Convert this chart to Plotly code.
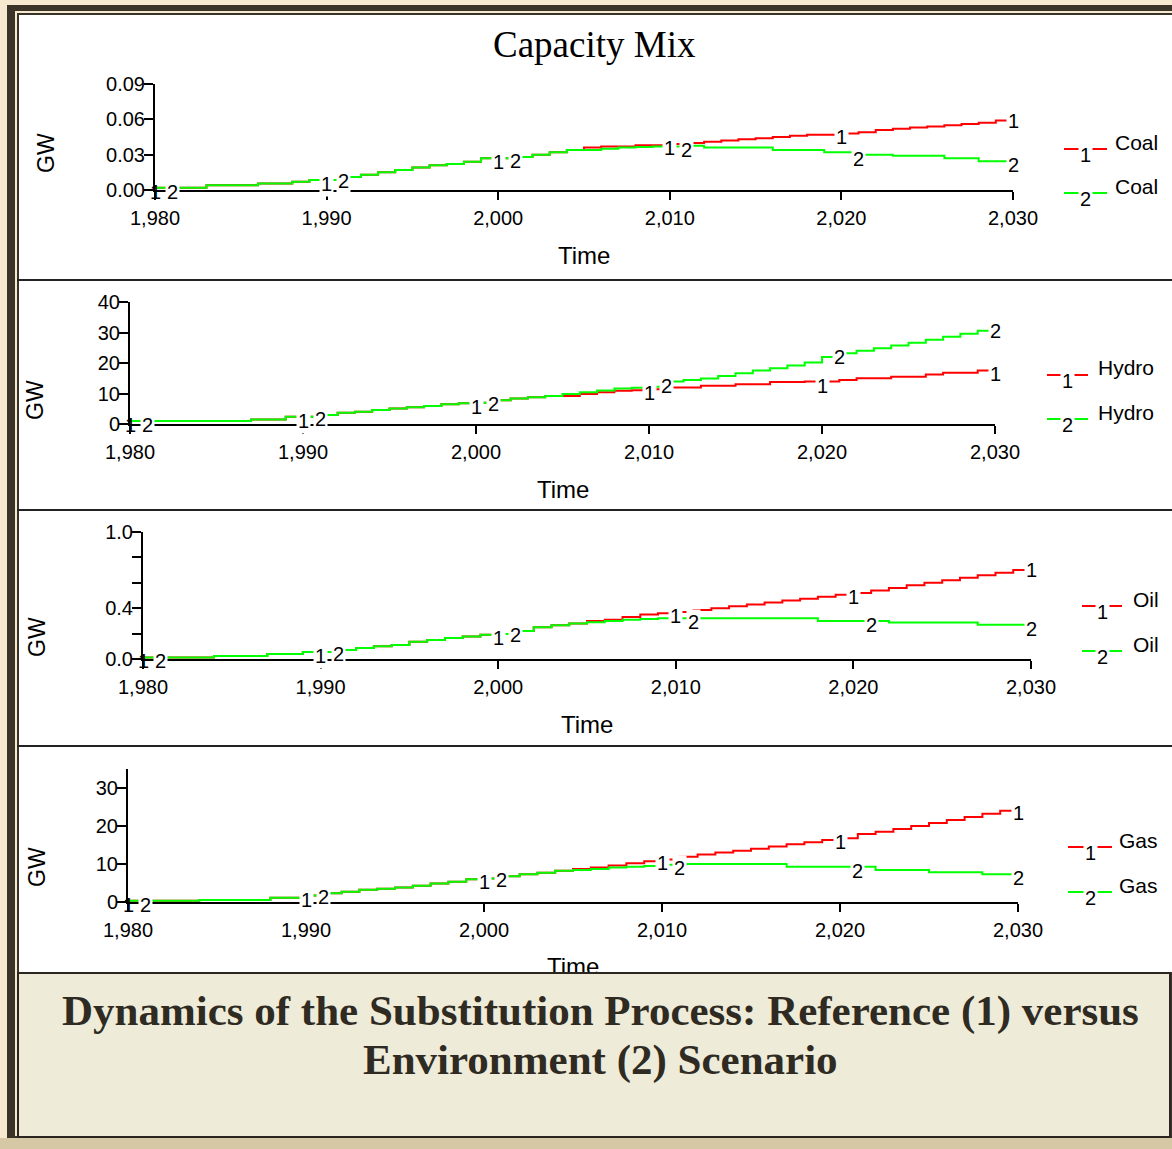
import plotly.graph_objects as go

W, H = 1172, 1149

# ---------------- data ----------------
years = list(range(1980, 2031))
decade_ticks = [1980, 1990, 2000, 2010, 2020, 2030]
label_years_ref = [1980, 1990, 2000, 2010, 2020, 2030]
label_years_env = [1981, 1991, 2001, 2011, 2021, 2030]

coal_ref = [0.002, 0.002, 0.002, 0.004, 0.004, 0.004, 0.0055, 0.0055, 0.007, 0.0085,
            0.0085, 0.011, 0.013, 0.015, 0.017, 0.019, 0.021, 0.022, 0.024, 0.027,
            0.027, 0.028, 0.030, 0.032, 0.034, 0.036, 0.037, 0.037, 0.038, 0.038,
            0.039, 0.040, 0.041, 0.042, 0.043, 0.044, 0.045, 0.046, 0.047, 0.047,
            0.048, 0.049, 0.051, 0.052, 0.053, 0.054, 0.055, 0.056, 0.057, 0.059,
            0.062]
coal_env = [0.002, 0.002, 0.002, 0.004, 0.004, 0.004, 0.0055, 0.0055, 0.007, 0.0085,
            0.0085, 0.011, 0.013, 0.015, 0.017, 0.019, 0.021, 0.022, 0.024, 0.027,
            0.027, 0.028, 0.030, 0.032, 0.034, 0.034, 0.035, 0.036, 0.0365, 0.037,
            0.037, 0.0375, 0.036, 0.036, 0.036, 0.036, 0.034, 0.034, 0.034, 0.032,
            0.032, 0.030, 0.030, 0.029, 0.029, 0.029, 0.027, 0.027, 0.0245, 0.0245,
            0.0245]

hydro_ref = [1.0, 1.0, 1.0, 1.0, 1.0, 1.0, 1.0, 1.5, 1.5, 2.4,
             2.4, 2.95, 3.7, 4.0, 4.6, 5.1, 5.5, 5.9, 6.5, 6.8,
             7.0, 7.8, 8.4, 8.8, 9.2, 9.2, 9.8, 10.4, 10.9, 11.1,
             11.4, 12.0, 12.0, 12.5, 12.5, 13.0, 13.0, 13.8, 13.8, 13.9,
             13.9, 14.4, 15.0, 15.0, 15.5, 15.5, 16.2, 16.8, 16.8, 17.5,
             17.6]
hydro_env = [1.0, 1.0, 1.0, 1.0, 1.0, 1.0, 1.0, 1.5, 1.5, 2.4,
             2.4, 2.95, 3.7, 4.0, 4.6, 5.1, 5.5, 5.9, 6.5, 6.8,
             7.0, 7.8, 8.4, 8.8, 9.2, 9.8, 10.4, 11.0, 11.6, 11.9,
             12.2, 13.9, 14.4, 14.9, 15.7, 16.6, 17.5, 18.3, 19.2, 20.2,
             22.0, 23.2, 24.0, 24.8, 25.7, 26.6, 27.6, 28.6, 29.6, 30.6,
             31.8]

oil_ref = [0.012, 0.012, 0.012, 0.012, 0.024, 0.024, 0.024, 0.040, 0.040, 0.055,
           0.055, 0.070, 0.087, 0.100, 0.110, 0.136, 0.150, 0.165, 0.178, 0.190,
           0.197, 0.220, 0.250, 0.265, 0.280, 0.300, 0.310, 0.330, 0.350, 0.360,
           0.370, 0.385, 0.400, 0.415, 0.430, 0.445, 0.460, 0.475, 0.490, 0.505,
           0.520, 0.540, 0.560, 0.580, 0.600, 0.620, 0.640, 0.660, 0.680, 0.700,
           0.730]
oil_env = [0.012, 0.012, 0.012, 0.012, 0.024, 0.024, 0.024, 0.040, 0.040, 0.055,
           0.055, 0.070, 0.087, 0.100, 0.110, 0.136, 0.150, 0.165, 0.178, 0.190,
           0.197, 0.220, 0.250, 0.265, 0.280, 0.290, 0.300, 0.310, 0.315, 0.320,
           0.320, 0.320, 0.320, 0.320, 0.320, 0.320, 0.320, 0.320, 0.300, 0.300,
           0.300, 0.300, 0.287, 0.287, 0.287, 0.287, 0.287, 0.270, 0.270, 0.270,
           0.270]

gas_ref = [0.3, 0.3, 0.3, 0.3, 0.5, 0.5, 0.5, 0.5, 1.1, 1.1,
           1.7, 2.3, 2.7, 3.2, 3.5, 3.8, 4.3, 4.9, 5.3, 6.0,
           6.2, 6.8, 7.3, 7.7, 8.2, 8.7, 9.1, 9.6, 10.2, 10.7,
           11.2, 11.9, 12.5, 13.0, 13.5, 14.0, 14.6, 15.2, 15.7, 16.3,
           16.8, 17.9, 18.5, 19.2, 20.0, 20.8, 21.6, 22.4, 23.2, 24.0,
           24.5]
gas_env = [0.3, 0.3, 0.3, 0.3, 0.5, 0.5, 0.5, 0.5, 1.1, 1.1,
           1.7, 2.3, 2.7, 3.2, 3.5, 3.8, 4.3, 4.9, 5.3, 6.0,
           6.2, 6.8, 7.3, 7.7, 8.2, 8.4, 8.7, 9.1, 9.3, 9.5,
           9.8, 10.0, 10.0, 10.0, 10.0, 10.0, 10.0, 9.3, 9.3, 9.3,
           9.3, 9.3, 8.4, 8.4, 8.4, 7.8, 7.8, 7.8, 7.3, 7.3,
           7.3]

coal_ticks = [0, 0.03, 0.06, 0.09]
coal_ticktext = ["0.00", "0.03", "0.06", "0.09"]
hydro_ticks = [0, 10, 20, 30, 40]
hydro_ticktext = ["0", "10", "20", "30", "40"]
oil_ticks = [0, 0.2, 0.4, 0.6, 0.8, 1.0]
oil_ticktext = ["0.0", "", "0.4", "", "", "1.0"]
gas_ticks = [0, 10, 20, 30]
gas_ticktext = ["0", "10", "20", "30"]

title_text = "Capacity Mix"
caption_lines = ["Dynamics of the Substitution Process: Reference (1) versus",
                 "Environment (2) Scenario"]

# ---------------- style ----------------
RED = "#ff0000"
GREEN = "#00ff00"
CREAM = "#f6e9cf"
DARK = "#3a3428"
CAPBG = "#eeebd9"
TAN = "#d6c8a4"
SANS = "Arial, Liberation Sans, sans-serif"
SERIF = "Times New Roman, Liberation Serif, serif"


def px(x):
    return x / W


def py(y):
    return 1 - y / H


def paper_text(x, y, text, size, family=SANS, xanchor="center", **kw):
    d = dict(x=px(x), y=py(y), xref="paper", yref="paper", text=text, showarrow=False,
             xanchor=xanchor, yanchor="middle",
             font=dict(family=family, size=size, color=kw.pop("color", "black"),
                       weight=kw.pop("weight", "normal")))
    d.update(kw)
    return d


panels = [
    dict(ref=coal_ref, env=coal_env, name="Coal", yr=[0, 0.09], tv=coal_ticks, tt=coal_ticktext,
         x0=155, x1=1013, yb=190, yt=84, gw=(46, 153), time_y=255,
         lg=(1064, 1107, 149, 193), lt=1113),
    dict(ref=hydro_ref, env=hydro_env, name="Hydro", yr=[0, 40], tv=hydro_ticks, tt=hydro_ticktext,
         x0=130, x1=995, yb=424, yt=302, gw=(35, 400), time_y=489,
         lg=(1047, 1088, 375, 419), lt=1096),
    dict(ref=oil_ref, env=oil_env, name="Oil", yr=[0, 1.0], tv=oil_ticks, tt=oil_ticktext,
         x0=143, x1=1031, yb=659, yt=532, gw=(37, 637), time_y=724,
         lg=(1082, 1122, 606, 651), lt=1131),
    dict(ref=gas_ref, env=gas_env, name="Gas", yr=[0, 35], tv=gas_ticks, tt=gas_ticktext,
         x0=128, x1=1018, yb=902, yt=769, gw=(37, 867), time_y=966,
         lg=(1068, 1112, 847, 892), lt=1117),
]

fig = go.Figure()
shapes = []
annotations = []
layout = {}

# background frame
shapes.append(dict(type="rect", xref="paper", yref="paper", x0=0, x1=1, y0=py(H), y1=py(1138),
                   fillcolor=TAN, line=dict(width=0), layer="below"))
shapes.append(dict(type="rect", xref="paper", yref="paper", x0=px(7), x1=1, y0=py(1138), y1=py(5),
                   fillcolor=DARK, line=dict(width=0), layer="below"))
shapes.append(dict(type="rect", xref="paper", yref="paper", x0=px(15), x1=1, y0=py(1136), y1=py(11),
                   fillcolor=CREAM, line=dict(width=0), layer="below"))
shapes.append(dict(type="rect", xref="paper", yref="paper", x0=px(17), x1=1, y0=py(1136), y1=py(13),
                   fillcolor=DARK, line=dict(width=0), layer="below"))
shapes.append(dict(type="rect", xref="paper", yref="paper", x0=px(19), x1=1, y0=py(972), y1=py(15),
                   fillcolor="white", line=dict(width=0), layer="below"))
for sy in [280, 510, 746]:
    shapes.append(dict(type="line", xref="paper", yref="paper", x0=px(17), x1=1, y0=py(sy), y1=py(sy),
                       line=dict(color="#222222", width=2), layer="below"))

for i, p in enumerate(panels, start=1):
    xa = "x" if i == 1 else f"x{i}"
    ya = "y" if i == 1 else f"y{i}"
    xk = "xaxis" if i == 1 else f"xaxis{i}"
    yk = "yaxis" if i == 1 else f"yaxis{i}"

    fig.add_trace(go.Scatter(x=years, y=p["ref"], mode="lines", xaxis=xa, yaxis=ya,
                             line=dict(color=RED, width=2, shape="hv"),
                             showlegend=False, hoverinfo="skip"))
    fig.add_trace(go.Scatter(x=years, y=p["env"], mode="lines", xaxis=xa, yaxis=ya,
                             line=dict(color=GREEN, width=2, shape="hv"),
                             showlegend=False, hoverinfo="skip"))

    common_ax = dict(showgrid=False, zeroline=False, color="black", linecolor="black",
                     tickcolor="black", tickwidth=2, automargin=False, fixedrange=True)
    layout[xk] = dict(domain=[px(p["x0"]), px(p["x1"])], anchor=ya, range=[1980, 2030],
                      tickmode="array", tickvals=decade_ticks,
                      ticktext=[f"{v:,}" for v in decade_ticks],
                      ticks="outside", ticklen=8, showline=True, linewidth=2,
                      tickfont=dict(family=SANS, size=20, color="black"),
                      ticklabelstandoff=1, **common_ax)
    layout[yk] = dict(domain=[py(p["yb"]), py(p["yt"])], anchor=xa, range=p["yr"],
                      tickmode="array", tickvals=p["tv"], ticktext=p["tt"],
                      ticks="outside", ticklen=9, showline=True, linewidth=2,
                      tickfont=dict(family=SANS, size=20, color="black"),
                      ticklabelstandoff=-5, **common_ax)
    # overlay axes to make ticks cross the axis lines
    layout[f"xaxis{i + 4}"] = dict(overlaying=xa, anchor=ya, range=[1980, 2030],
                                   tickmode="array", tickvals=decade_ticks, ticks="inside",
                                   ticklen=8, showticklabels=False, showline=False,
                                   **common_ax)
    layout[f"yaxis{i + 4}"] = dict(overlaying=ya, anchor=xa, range=p["yr"], side="left",
                                   tickmode="array", tickvals=p["tv"], ticks="inside",
                                   ticklen=4, showticklabels=False, showline=False,
                                   **common_ax)

    # series labels "1" / "2" along the lines
    for yr in label_years_ref:
        annotations.append(dict(x=yr, y=p["ref"][years.index(yr)], xref=xa, yref=ya, text="1",
                                showarrow=False, yshift=-4, xanchor="center", yanchor="middle",
                                bgcolor="white" if yr != 1980 else "rgba(0,0,0,0)", borderpad=1,
                                font=dict(family=SANS, size=20, color="black")))
    for yr in label_years_env:
        annotations.append(dict(x=yr, y=p["env"][years.index(yr)], xref=xa, yref=ya, text="2",
                                showarrow=False, yshift=-4, xanchor="center", yanchor="middle",
                                bgcolor="white", borderpad=1,
                                font=dict(family=SANS, size=20, color="black")))

    # GW label
    annotations.append(paper_text(p["gw"][0], p["gw"][1], "GW", 23, textangle=-90))

    # legend
    lx0, lx1, ly1, ly2 = p["lg"]
    for ly, col, num in [(ly1, RED, "1"), (ly2, GREEN, "2")]:
        shapes.append(dict(type="line", xref="paper", yref="paper", x0=px(lx0), x1=px(lx1),
                           y0=py(ly), y1=py(ly), line=dict(color=col, width=2)))
        annotations.append(paper_text((lx0 + lx1) / 2, ly + 6, num, 20,
                                      bgcolor="white", borderpad=1))
        annotations.append(paper_text(p["lt"], ly - 7, p["name"], 21, xanchor="left"))

    # Time title
    annotations.append(paper_text((p["x0"] + p["x1"]) / 2, p["time_y"], "Time", 24))

# main title
annotations.append(paper_text(595, 45, title_text, 37, family=SERIF))

# caption box (covers the bottom of the last "Time")
annotations.append(paper_text(594, 1055, " ", 10, width=1150, height=162, bgcolor=CAPBG,
                              bordercolor="#2b2720", borderwidth=2, borderpad=0))
for line_text, ly in zip(caption_lines, [1011, 1060]):
    annotations.append(paper_text(600, ly, line_text, 43, family=SERIF, color="#2f2b22",
                                  weight="bold"))

fig.update_layout(
    width=W, height=H,
    autosize=False,
    margin=dict(l=0, r=0, t=0, b=0, pad=0, autoexpand=False),
    paper_bgcolor=CREAM,
    plot_bgcolor="rgba(0,0,0,0)",
    shapes=shapes,
    annotations=annotations,
    showlegend=False,
    **layout,
)

fig.write_html("out.html", config={"displayModeBar": False},
               post_script="document.body.style.margin='0';document.body.style.padding='0';")
